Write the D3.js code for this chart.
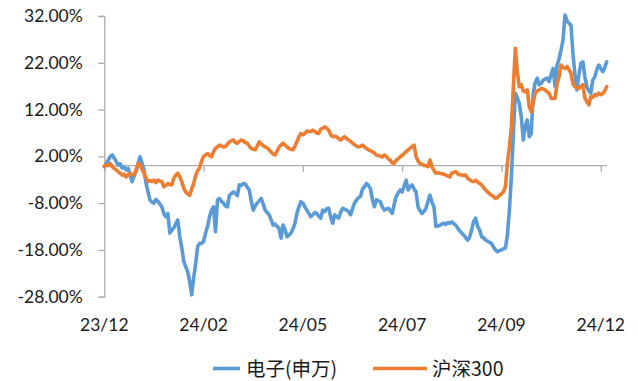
<!DOCTYPE html>
<html>
<head>
<meta charset="utf-8">
<script src="https://cdn.jsdelivr.net/npm/d3@7"></script>
<style>
  html, body { margin: 0; padding: 0; background: #fff; }
  svg { display: block; }
</style>
</head>
<body>
<svg id="chart" width="638" height="381"></svg>
<script>
// Cumulative return (%) — 电子(申万) vs 沪深300, daily points
const electronics = [
  -0.2, 0.5, 1.2, 2.0, 2.3, 1.6, 0.9, 0.1, 0.4, -0.5,
  -0.2, -0.9, -0.6, -2.0, -3.4, -2.3, -1.2, 0.4, 1.9, 0.6,
  -0.9, -3.7, -5.6, -7.3, -7.8, -8.0, -7.2, -7.6, -8.2, -8.8,
  -10.3, -10.9, -10.2, -14.4, -13.8, -13.3, -12.4, -11.6, -15.2, -17.5,
  -20.4, -21.6, -22.7, -24.8, -27.6, -24.0, -21.0, -17.3, -16.6, -16.6,
  -16.2, -14.4, -13.0, -10.9, -9.5, -8.8, -14.1, -7.3, -7.0, -7.6,
  -8.0, -8.6, -8.8, -6.3, -6.0, -5.6, -5.9, -6.4, -4.1, -4.2,
  -3.8, -3.9, -4.6, -5.2, -7.6, -9.5, -8.6, -8.0, -7.5, -7.0,
  -8.2, -9.5, -10.0, -10.5, -11.6, -12.7, -12.5, -13.0, -13.4, -15.5,
  -12.7, -13.6, -15.2, -14.8, -14.4, -13.5, -12.3, -10.2, -8.8, -7.7,
  -8.0, -8.8, -9.5, -10.2, -10.9, -10.5, -10.0, -10.2, -10.8, -11.2,
  -9.5, -9.8, -9.2, -9.1, -11.0, -12.3, -10.5, -10.9, -11.2, -10.0,
  -9.1, -9.3, -9.5, -9.8, -10.5, -9.2, -8.0, -7.4, -6.8, -6.6,
  -5.0, -4.5, -3.8, -4.2, -4.9, -7.2, -8.8, -7.3, -7.5, -7.7,
  -8.8, -9.5, -9.3, -9.1, -9.6, -10.2, -8.2, -6.6, -5.8, -5.2,
  -5.6, -4.3, -3.1, -5.2, -4.5, -4.1, -5.0, -5.6, -8.8, -9.6,
  -10.2, -9.8, -9.1, -7.6, -6.3, -7.8, -8.8, -13.0, -12.9, -12.7,
  -12.5, -12.3, -12.6, -12.1, -12.3, -12.0, -12.4, -12.7, -13.4, -13.9,
  -14.4, -14.8, -15.4, -15.9, -15.2, -13.7, -11.9, -11.2, -13.0, -13.7,
  -15.2, -15.4, -15.9, -16.1, -16.4, -16.6, -17.4, -18.0, -18.4, -18.1,
  -18.0, -17.8, -17.6, -14.8, -9.5, -2.4, 7.0, 15.5, 14.5, 13.3,
  10.4, 5.5, 8.5, 9.8, 6.2, 6.9, 15.5, 17.8, 18.7, 17.3,
  17.6, 18.3, 18.5, 18.7, 18.0, 19.5, 20.8, 16.9, 21.5, 22.8,
  24.7, 26.9, 32.2, 31.0, 30.4, 30.1, 24.0, 19.5, 16.2, 19.5,
  21.9, 22.2, 19.0, 16.9, 16.0, 15.5, 18.3, 19.0, 20.5, 21.5,
  20.8, 20.1, 21.0, 22.2
];

const csi300 = [
  -0.1, 0.2, 0.0, 0.5, -0.2, -0.6, -0.9, -1.3, -1.6, -2.0,
  -1.8, -2.4, -2.0, -1.6, -1.9, -2.0, -1.0, 0.5, 0.2, -0.8,
  -1.6, -2.6, -3.4, -3.2, -3.4, -3.1, -3.6, -3.1, -3.3, -3.4,
  -4.5, -4.2, -3.8, -4.0, -4.1, -2.7, -2.0, -1.6, -2.4, -3.4,
  -4.8, -5.6, -6.0, -6.3, -5.0, -3.8, -2.2, -1.0, -0.5, 1.0,
  2.0, 2.3, 2.6, 2.2, 1.9, 3.0, 3.7, 4.0, 4.4, 4.2,
  4.0, 4.1, 4.6, 5.1, 5.3, 5.5, 5.0, 4.8, 5.2, 5.5,
  5.3, 4.9, 4.8, 4.2, 3.7, 3.5, 3.4, 4.2, 5.1, 4.7,
  4.3, 4.0, 3.8, 3.4, 2.9, 2.5, 2.3, 3.1, 4.0, 4.4,
  4.8, 4.4, 4.0, 3.7, 3.5, 3.4, 4.2, 5.1, 6.2, 6.9,
  6.6, 6.9, 7.4, 7.3, 7.3, 7.6, 7.3, 7.0, 6.9, 7.8,
  8.0, 8.3, 8.0, 7.6, 6.6, 6.2, 6.3, 6.2, 5.8, 5.5,
  5.9, 6.2, 5.8, 5.5, 5.2, 4.8, 4.5, 4.2, 4.0, 4.2,
  4.4, 4.0, 3.7, 3.4, 3.2, 3.0, 2.7, 2.3, 2.2, 2.0,
  1.9, 2.3, 2.0, 1.5, 1.2, 0.6, 0.5, 1.2, 1.5, 1.9,
  2.2, 2.6, 3.0, 3.4, 3.7, 4.1, 4.4, 1.9, 1.0, 0.5,
  0.3, 0.1, 0.0, -0.2, 1.2, -0.2, -1.0, -1.6, -1.5, -1.6,
  -1.7, -1.8, -2.0, -2.2, -2.4, -1.6, -1.4, -1.3, -1.7, -2.0,
  -2.0, -2.1, -2.0, -2.7, -3.0, -3.3, -3.4, -3.1, -3.5, -3.8,
  -4.1, -4.7, -5.2, -5.6, -6.0, -6.3, -6.6, -7.0, -6.8, -6.3,
  -6.0, -5.6, -4.5, 0.5, 4.0, 8.3, 17.0, 25.1, 20.0, 16.9,
  17.3, 16.0, 15.8, 16.2, 12.6, 11.5, 13.5, 15.5, 16.0, 16.2,
  16.5, 16.4, 16.2, 15.8, 15.5, 14.4, 14.4, 14.4, 17.5, 19.0,
  21.5, 21.0, 20.8, 21.2, 20.5, 19.8, 17.5, 16.9, 16.6, 16.5,
  17.0, 17.3, 14.5, 13.7, 13.0, 14.8, 14.6, 15.2, 15.0, 15.5,
  15.2, 15.4, 16.0, 16.9
];

// Category axis: a label every 50 trading days
const tickIndex = [0, 50, 100, 150, 200, 250];
const tickLabels = ["23/12", "24/02", "24/05", "24/07", "24/09", "24/12"];
const yTicks = [-28, -18, -8, 2, 12, 22, 32];

const seriesNames = ["电子(申万)", "沪深300"];
const seriesColors = ["#5B9BD5", "#ED7D31"];

const svg = d3.select("#chart");
const plotLeft = 104.3, plotRight = 606.7, plotTop = 16, plotBottom = 296.7;

const x = d3.scaleLinear().domain([0, electronics.length - 1]).range([plotLeft, plotRight]);
const y = d3.scaleLinear().domain([-28, 32]).range([plotBottom, plotTop]);

const axisColor = "#ADADAD";
const labelFont = "Lato, 'Open Sans', sans-serif";

// Y axis
const yAxis = d3.axisLeft(y).tickValues(yTicks).tickSize(6)
  .tickFormat(d => d.toFixed(2) + "%");
const gy = svg.append("g").attr("transform", `translate(${plotLeft},0)`).call(yAxis);
gy.select(".domain").attr("stroke", axisColor).attr("stroke-width", 1.3);
gy.selectAll(".tick line").attr("stroke", axisColor).attr("stroke-width", 1.3);
gy.selectAll(".tick text")
  .attr("x", -21.5)
  .attr("fill", "#1a1a1a")
  .style("font-family", labelFont)
  .style("font-size", "17.5px");

// X axis along the zero line
const xAxis = d3.axisBottom(x).tickValues(tickIndex).tickSize(6).tickFormat("");
const gx = svg.append("g").attr("transform", `translate(0,${y(0)})`).call(xAxis);
gx.select(".domain").attr("stroke", axisColor).attr("stroke-width", 1.3)
  .attr("d", `M${plotLeft},0H${plotRight}`);
gx.selectAll(".tick line").attr("stroke", axisColor).attr("stroke-width", 1.3);

// Category labels along the bottom
svg.append("g").selectAll("text")
  .data(tickIndex)
  .join("text")
  .attr("x", d => x(d))
  .attr("y", 331)
  .attr("text-anchor", "middle")
  .attr("fill", "#1a1a1a")
  .style("font-family", labelFont)
  .style("font-size", "17.5px")
  .text((d, i) => tickLabels[i]);

// Series lines
const line = d3.line().x((d, i) => x(i)).y(d => y(d));
[electronics, csi300].forEach((vals, k) => {
  svg.append("path")
    .datum(vals)
    .attr("fill", "none")
    .attr("stroke", seriesColors[k])
    .attr("stroke-width", 3.6)
    .attr("stroke-linejoin", "round")
    .attr("stroke-linecap", "round")
    .attr("d", line);
});

// Legend
const legend = svg.append("g");
const legendItems = [
  { x1: 213, x2: 240, tx: 246 },
  { x1: 373, x2: 427, tx: 432 }
];
legendItems.forEach((it, k) => {
  legend.append("line")
    .attr("x1", it.x1).attr("x2", it.x2)
    .attr("y1", 368.5).attr("y2", 368.5)
    .attr("stroke", seriesColors[k]).attr("stroke-width", 3.6);
  legend.append("text")
    .attr("x", it.tx).attr("y", 375.5)
    .attr("fill", "#1a1a1a")
    .style("font-family", "'Noto Sans CJK SC', sans-serif")
    .style("font-size", "19.5px")
    .text(seriesNames[k]);
});
</script>
</body>
</html>
